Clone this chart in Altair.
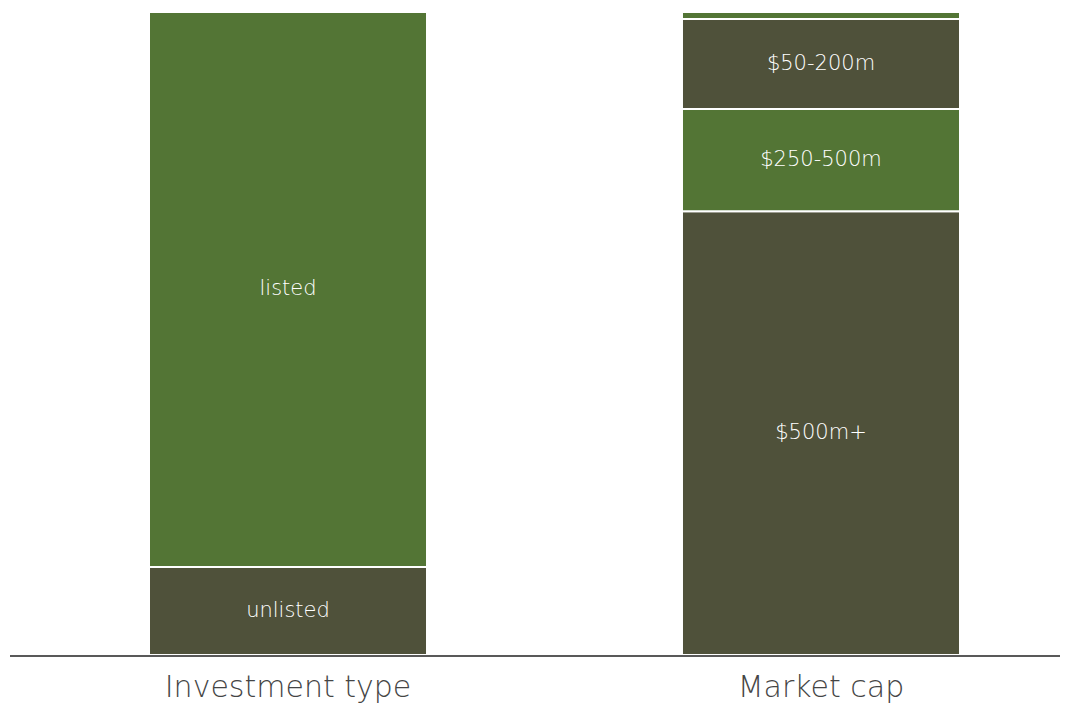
import altair as alt
import pandas as pd

groups = ["Investment type", "Investment type", "Market cap", "Market cap", "Market cap", "Market cap"]
segments = ["unlisted", "listed", "$500m+", "$250-500m", "$50-200m", "<$50m"]
values = [13.7, 86.3, 69.0, 15.9, 14.0, 1.1]
order = [1, 2, 1, 2, 3, 4]
shade = ["dark", "green", "dark", "green", "dark", "green"]

df = pd.DataFrame({"group": groups, "segment": segments, "value": values,
                   "order": order, "shade": shade})

FONT = "DejaVu Sans"
W, H = 1050, 643

x_enc = alt.X("group:N", sort=["Investment type", "Market cap"],
              scale=alt.Scale(range=[139, 950], paddingInner=0.4784, paddingOuter=0),
              axis=alt.Axis(title=None, labelAngle=0, ticks=False, labelFontSize=30,
                            labelFont=FONT, labelFontWeight=300, labelColor="#454545",
                            labelLimit=500, labelPadding=17, domain=False, grid=False))

base = alt.Chart(df).transform_stack(
    stack="value", groupby=["group"], as_=["y0", "y1"],
    sort=[alt.SortField("order", order="ascending")]
).transform_calculate(mid="(datum.y0 + datum.y1) / 2")

bars = base.mark_bar(stroke="white", strokeWidth=2).encode(
    x=x_enc,
    y=alt.Y("y0:Q", scale=alt.Scale(domain=[0, 100], nice=False), axis=None),
    y2="y1:Q",
    color=alt.Color("shade:N", scale=alt.Scale(domain=["dark", "green"],
                                               range=["#4f513a", "#537535"]), legend=None),
)

labels = base.transform_filter("datum.value >= 5").mark_text(
    color="white", fontSize=21, font=FONT, fontWeight=300, baseline="middle"
).encode(
    x=alt.X("group:N", sort=["Investment type", "Market cap"]),
    y=alt.Y("mid:Q"),
    text="segment:N",
)

baseline_rule = alt.Chart(df).mark_rule(color="#595959", strokeWidth=2).encode(
    x=alt.value(0), x2=alt.value(W), y=alt.value(H + 1)
)

chart = alt.layer(bars, labels, baseline_rule).properties(
    width=W, height=H,
    padding={"left": 2, "top": 4, "right": 0, "bottom": 49},
    autosize=alt.AutoSizeParams(type="none"),
    background="white",
).configure_view(strokeWidth=0, stroke="transparent")

chart.save("out.html", embed_options={"renderer": "svg", "actions": False})
